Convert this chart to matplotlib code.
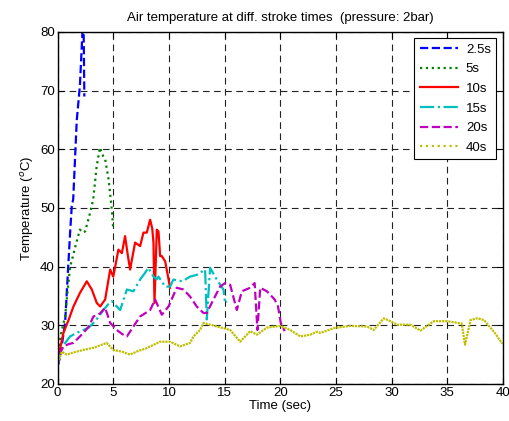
import matplotlib
matplotlib.use("Agg")
import matplotlib.pyplot as plt
from matplotlib.lines import Line2D

plt.rcParams['font.family'] = ['Liberation Sans', 'DejaVu Sans']

# stroke 2.5 s
t_25 = [0.0, 0.22, 0.67, 1.12, 1.27, 1.4, 1.72, 2.0, 2.23, 2.3, 2.35, 2.4]
T_25 = [23.0, 24.6, 30.4, 45.8, 50.3, 51.5, 65.0, 70.8, 80.0, 86.0, 78.0, 69.0]

# stroke 5 s
t_5 = [0.0, 0.05, 0.3, 0.67, 0.82, 1.12, 1.27, 1.6, 2.0, 2.3, 2.47, 2.92, 3.2,
       3.5, 3.8, 4.1, 4.27, 4.57, 4.87, 5.0]
T_5 = [23.5, 25.8, 28.5, 31.5, 34.4, 40.0, 41.0, 43.5, 46.3, 45.8, 46.0, 49.2,
       51.5, 57.0, 60.3, 58.8, 58.3, 55.0, 49.7, 46.3]

# stroke 10 s
t_10 = [0.0, 0.07, 0.52, 1.0, 1.42, 2.0, 2.62, 3.07, 3.52, 3.82, 4.27, 4.72,
        5.0, 5.46, 5.77, 6.06, 6.3, 6.51, 6.96, 7.41, 7.71, 8.01, 8.31, 8.5,
        8.61, 8.7, 8.91, 9.06, 9.21, 9.36, 9.66, 9.9, 10.1]
T_10 = [23.5, 24.7, 28.7, 31.0, 33.2, 35.5, 37.5, 36.1, 33.8, 33.2, 34.4, 39.5,
        38.3, 42.9, 42.3, 45.2, 42.0, 39.5, 44.1, 43.5, 45.8, 45.8, 48.0, 46.5,
        44.1, 33.8, 46.3, 46.0, 41.8, 41.8, 40.9, 38.5, 36.4]

# stroke 15 s
t_15 = [0.0, 0.22, 0.6, 1.12, 1.7, 2.32, 2.8, 3.22, 3.7, 4.12, 4.5, 4.87, 5.32,
        5.62, 6.22, 6.81, 7.41, 7.8, 8.16, 8.61, 8.9, 9.06, 9.66, 10.1, 10.4,
        11.2, 11.9, 12.5, 13.25, 13.4, 13.7, 14.3, 14.9, 15.05, 15.2]
T_15 = [23.0, 25.3, 26.8, 28.1, 28.7, 29.2, 29.6, 30.4, 31.5, 32.6, 33.5, 34.1,
        33.2, 32.6, 36.1, 35.8, 37.8, 38.8, 39.8, 38.3, 37.8, 38.3, 36.6, 36.6,
        37.8, 37.5, 38.3, 38.6, 39.5, 31.0, 39.8, 37.8, 36.1, 33.8, 34.1]

# stroke 20 s
t_20 = [0.0, 0.22, 0.52, 1.0, 1.42, 2.32, 2.8, 3.22, 3.8, 4.27, 4.72, 5.32,
        5.8, 6.22, 6.81, 7.41, 8.31, 8.76, 9.36, 9.96, 10.7, 11.3, 11.9, 12.5,
        13.1, 13.4, 14.0, 14.6, 15.05, 15.5, 16.1, 16.55, 17.3, 17.7, 17.95,
        18.2, 18.8, 19.5, 19.8, 20.05, 20.4]
T_20 = [23.0, 25.3, 26.4, 26.8, 27.0, 28.7, 29.8, 31.5, 32.0, 33.0, 30.4, 29.2,
        28.5, 28.1, 29.8, 31.5, 32.6, 34.4, 31.8, 33.2, 36.4, 36.1, 34.9, 33.2,
        32.1, 32.1, 34.4, 36.6, 37.2, 36.9, 32.6, 35.8, 36.4, 37.2, 29.2,
        36.4, 35.8, 34.4, 33.2, 30.4, 29.0]

# stroke 40 s
t_40 = [0.0, 0.38, 0.82, 1.5, 2.3, 3.3, 4.4, 5.0, 5.8, 6.5, 7.2, 8.0, 9.2,
        10.1, 11.0, 11.9, 12.2, 12.8, 13.1, 14.3, 15.5, 16.4, 17.3, 17.9, 18.8,
        20.0, 20.9, 21.8, 22.7, 23.3, 23.6, 24.8, 25.1, 26.3, 27.8, 28.4, 29.3,
        29.9, 30.5, 31.7, 32.6, 33.8, 35.0, 36.3, 36.6, 37.1, 37.7, 38.3, 39.2,
        39.9, 40.0]
T_40 = [23.6, 25.5, 25.0, 25.4, 25.8, 26.2, 27.0, 25.8, 25.5, 25.0, 25.6, 26.1,
        27.2, 27.2, 26.4, 27.0, 28.1, 29.2, 30.4, 29.8, 29.2, 27.2, 29.0, 28.4,
        29.6, 29.9, 29.2, 28.1, 28.4, 28.9, 28.7, 29.5, 29.6, 29.9, 29.8, 29.2,
        31.2, 30.7, 30.1, 30.1, 29.1, 30.7, 30.7, 30.3, 26.7, 30.9, 31.2, 30.9,
        28.9, 27.0, 26.9]

labels = ['2.5s', '5s', '10s', '15s', '20s', '40s']
colors = ['#0000FF', '#008000', '#FF0000', '#00BFBF', '#BF00BF', '#BFBF00']
styles = ['--', ':', '-', '-.', '--', ':']

fig = plt.figure(figsize=(5.10, 4.21), dpi=100)
ax = fig.add_axes([0.113, 0.088, 0.873, 0.836])

lw = 1.6
series = [(t_25, T_25), (t_5, T_5), (t_10, T_10),
          (t_15, T_15), (t_20, T_20), (t_40, T_40)]
for (t, T), c, ls in zip(series, colors, styles):
    # the long 40 s record is densely sampled, so its dots run together
    if t is t_40:
        ls = (0, (1.0, 0.4))
    ax.plot(t, T, color=c, linestyle=ls, lw=lw)

ax.set_xlim(0, 40)
ax.set_ylim(20, 80)
ax.set_xticks(range(0, 41, 5))
ax.set_yticks(range(20, 81, 10))
ax.tick_params(direction='in', top=True, right=True, labelsize=9.5, length=4,
               width=0.8, pad=2)
for s in ax.spines.values():
    s.set_linewidth(1.0)
    s.set_color('black')
ax.grid(True, color='#222222', linestyle=(0, (6, 4)), linewidth=0.8)
ax.set_axisbelow(True)

ax.set_title('Air temperature at diff. stroke times  (pressure: 2bar)',
             fontsize=9.5, pad=8)
ax.set_xlabel('Time (sec)', fontsize=9.5, labelpad=1)
ax.set_ylabel('Temperature ($^o$C)', fontsize=9.5, labelpad=3)

handles = [Line2D([], [], color=c, linestyle=ls, lw=lw)
           for c, ls in zip(colors, styles)]
leg = ax.legend(handles, labels, loc='upper right', fontsize=9.5,
                handlelength=2.9, handletextpad=0.6, fancybox=False,
                framealpha=1, edgecolor='black',
                bbox_to_anchor=(0.985, 0.982),
                borderaxespad=0.0, labelspacing=0.56)
leg.get_frame().set_linewidth(0.8)

fig.savefig('out.png', dpi=100)
